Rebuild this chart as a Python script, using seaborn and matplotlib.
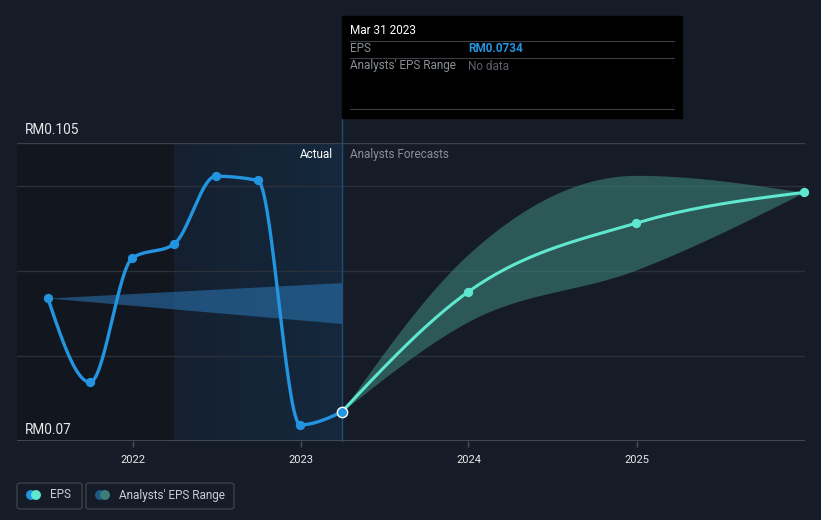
import numpy as np
import pandas as pd
import seaborn as sns
import matplotlib.pyplot as plt
import matplotlib.dates as mdates
from matplotlib.patches import Rectangle, FancyBboxPatch, Ellipse

# actual EPS (quarterly)
actual_dates = ["2021-06-30", "2021-09-30", "2021-12-31", "2022-03-31",
                "2022-06-30", "2022-09-30", "2022-12-31", "2023-03-31"]
actual_eps = [0.0868, 0.0769, 0.0915, 0.0931, 0.1011, 0.1006, 0.0719, 0.0734]

# analysts forecasts
fc_dates = ["2023-03-31", "2023-12-31", "2024-12-31", "2025-12-31"]
fc_eps = [0.0734, 0.0875, 0.0956, 0.0992]
fc_high = [0.0734, 0.0919, 0.1012, 0.0992]
fc_low = [0.0734, 0.0840, 0.0901, 0.0992]

# past estimate range (blue wedge)
past_dates = ["2021-06-30", "2023-03-31"]
past_high = [0.0868, 0.0886]
past_low = [0.0868, 0.0838]

y_ticks = [0.08, 0.09, 0.10]
year_ticks = ["2022", "2023", "2024", "2025"]

BG = "#161c27"
BLUE = "#2394df"
TEAL = "#5fe7cf"
W, H = 821, 520


def fx(px):
    return px / W


def fy(py):
    return 1 - py / H


def monotone(x, y, n=60):
    # d3 curveMonotoneX style smoothing, for drawing only
    x = np.asarray(x, float)
    y = np.asarray(y, float)
    k = len(x)
    h = np.diff(x)
    s = np.diff(y) / h
    t = np.zeros(k)
    for i in range(1, k - 1):
        p = (s[i - 1] * h[i] + s[i] * h[i - 1]) / (h[i - 1] + h[i])
        t[i] = (np.sign(s[i - 1]) + np.sign(s[i])) * min(abs(s[i - 1]), abs(s[i]), 0.5 * abs(p))
    if k > 2:
        t[0] = (3 * s[0] - t[1]) / 2
        t[-1] = (3 * s[-1] - t[-2]) / 2
    else:
        t[:] = s[0]
    xs, ys = [], []
    for i in range(k - 1):
        u = np.linspace(0, 1, n)
        h00 = 2 * u**3 - 3 * u**2 + 1
        h10 = u**3 - 2 * u**2 + u
        h01 = -2 * u**3 + 3 * u**2
        h11 = u**3 - u**2
        xs.append(x[i] + u * h[i])
        ys.append(h00 * y[i] + h10 * h[i] * t[i] + h01 * y[i + 1] + h11 * h[i] * t[i + 1])
    return np.concatenate(xs), np.concatenate(ys)


def num(dates):
    return mdates.date2num(pd.to_datetime(dates))


plt.rcParams['font.family'] = ['Roboto', 'DejaVu Sans']
fig = plt.figure(figsize=(W / 100, H / 100), dpi=100, facecolor=BG)
ax = fig.add_axes([fx(17), fy(441), fx(805) - fx(17), (441 - 143) / H])
ax.set_facecolor(BG)

xmin = mdates.date2num(pd.Timestamp("2021-04-24"))
xmax = mdates.date2num(pd.Timestamp("2026-01-02"))

a_x = num(actual_dates)
f_x = num(fc_dates)

# shaded regions
ax.axvspan(xmin, a_x[3], color="#12161e", zorder=0, lw=0)
grad = np.linspace(0, 1, 200).reshape(1, -1)
ax.imshow(grad, extent=[a_x[3], a_x[-1], 0.07, 0.105], aspect="auto",
          cmap=plt.matplotlib.colors.LinearSegmentedColormap.from_list("hl", ["#142030", "#15283d"]),
          zorder=0.5)
ax.set_xlim(xmin, xmax)
ax.set_ylim(0.07, 0.105)

for v in y_ticks:
    ax.axhline(v, color="#2b313b", lw=1, zorder=1)
ax.axhline(0.105, color="#3a4049", lw=1, zorder=1)
ax.axhline(0.07, color="#4a5059", lw=1.2, zorder=3)

ax.axvline(a_x[-1], ymin=0, ymax=(441 - 118) / (441 - 143), color="#1f4e78",
           lw=1, clip_on=False, zorder=2)

# past estimate wedge
px_, ph = monotone(num(past_dates), past_high)
_, pl = monotone(num(past_dates), past_low)
ax.fill_between(px_, pl, ph, color="#2a78b8", alpha=0.55, lw=0, zorder=2)

# forecast band
bx, bh = monotone(f_x, fc_high)
_, bl = monotone(f_x, fc_low)
ax.fill_between(bx, bl, bh, color="#3f8a82", alpha=0.55, lw=0, zorder=2)

# forecast line
lx, ly = monotone(f_x, fc_eps)
sns.lineplot(x=lx, y=ly, ax=ax, color=TEAL, lw=2.2, zorder=4, sort=False)
sns.scatterplot(x=f_x[1:], y=fc_eps[1:], ax=ax, color=TEAL, s=45, lw=0, zorder=5, clip_on=False)

# actual line
sx, sy = monotone(a_x, actual_eps)
sns.lineplot(x=sx, y=sy, ax=ax, color=BLUE, lw=2.4, zorder=4, sort=False)
sns.scatterplot(x=a_x[:-1], y=actual_eps[:-1], ax=ax, color=BLUE, s=45, lw=0, zorder=5)
ax.scatter([a_x[-1]], [actual_eps[-1]], s=55, color=BLUE, edgecolor="white", lw=1, zorder=6)

# axes styling
for sp in ax.spines.values():
    sp.set_visible(False)
ax.set_yticks([])
ax.set_xticks(num([f"{y}-01-01" for y in year_ticks]))
ax.set_xticklabels(year_ticks)
ax.tick_params(axis="x", colors="#4a5059", length=4, width=1, pad=6, labelsize=8, labelcolor="#e6e8eb")
ax.set_xlabel("")
ax.set_ylabel("")
ax.grid(False)

# y labels
fig.text(fx(25), fy(130), "RM0.105", color="#e6e8eb", fontsize=9.8, va="center")
fig.text(fx(25), fy(430), "RM0.07", color="#e6e8eb", fontsize=9.8, va="center")
fig.text(fx(333), fy(154), "Actual", color="#ffffff", fontsize=8.5, va="center", ha="right")
fig.text(fx(350), fy(154), "Analysts Forecasts", color="#8a8f96", fontsize=8.5, va="center")

# tooltip
fig.patches.append(Rectangle((fx(342), fy(118)), fx(682) - fx(342), (118 - 16) / H,
                             transform=fig.transFigure, color="#000000", zorder=10))
for yy in (41, 58, 109):
    fig.add_artist(plt.Line2D([fx(350), fx(674)], [fy(yy), fy(yy)], color="#3a3d42",
                              lw=0.8, transform=fig.transFigure, zorder=11))
fig.text(fx(350), fy(31), "Mar 31 2023", color="#ffffff", fontsize=8.5, va="center", zorder=12)
fig.text(fx(350), fy(49), "EPS", color="#8a8f96", fontsize=8.5, va="center", zorder=12)
fig.text(fx(468), fy(49), "RM0.0734", color=BLUE, fontsize=8.5, va="center", weight="bold", zorder=12)
fig.text(fx(350), fy(66), "Analysts' EPS Range", color="#8a8f96", fontsize=8.5, va="center", zorder=12)
fig.text(fx(468), fy(66), "No data", color="#5d6168", fontsize=8.5, va="center", zorder=12)

# legend
legend_items = [("EPS", 17, 82, BLUE, TEAL), ("Analysts' EPS Range", 86, 234, "#1f5a86", "#3d7f78")]
for label, x0, x1, c1, c2 in legend_items:
    fig.patches.append(FancyBboxPatch((fx(x0), fy(509)), fx(x1) - fx(x0), 26 / H,
                                      boxstyle="round,pad=0,rounding_size=0.004",
                                      transform=fig.transFigure, facecolor=BG,
                                      edgecolor="#3a3f48", lw=1))
    cy = 495
    for dx, c in ((31 - 17, c1), (36 - 17, c2)):
        fig.add_artist(Ellipse((fx(x0 + dx), fy(cy)), 8.5 / W, 8.5 / H,
                               transform=fig.transFigure, color=c, zorder=5))
    fig.text(fx(x0 + 33), fy(cy), label, color="#c9cdd2", fontsize=8.5, va="center")

fig.savefig("out.png", dpi=100, facecolor=BG)
